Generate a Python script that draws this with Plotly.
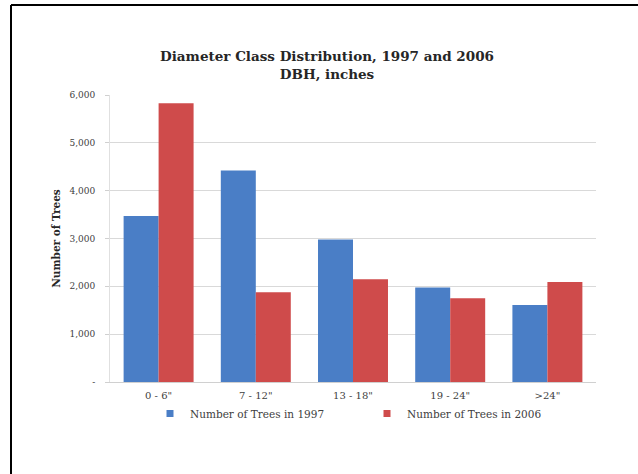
import plotly.graph_objects as go

categories = ['0 - 6"', '7 - 12"', '13 - 18"', '19 - 24"', '>24"']
trees_1997 = [3470, 4420, 2980, 1975, 1610]
trees_2006 = [5830, 1875, 2150, 1750, 2090]
series_names = ["Number of Trees in 1997", "Number of Trees in 2006"]
y_tickvals = [0, 1000, 2000, 3000, 4000, 5000, 6000]
y_ticktext = ["-", "1,000", "2,000", "3,000", "4,000", "5,000", "6,000"]

SERIF = "DejaVu Serif"
TXT = "#404040"
BLUE = "#4A7EC6"
RED = "#CF4B4B"

fig = go.Figure()
fig.add_trace(go.Bar(x=categories, y=trees_1997, name=series_names[0], showlegend=False,
                     legendgroup="a", marker=dict(color=BLUE, line=dict(width=0))))
fig.add_trace(go.Bar(x=categories, y=trees_2006, name=series_names[1], showlegend=False,
                     legendgroup="b", marker=dict(color=RED, line=dict(width=0))))
# legend entries with small square keys
fig.add_trace(go.Scatter(x=[None], y=[None], mode="markers", name=series_names[0],
                         legendgroup="a",
                         marker=dict(symbol="square", size=7, color=BLUE)))
fig.add_trace(go.Scatter(x=[None], y=[None], mode="markers", name=series_names[1],
                         legendgroup="b",
                         marker=dict(symbol="square", size=7, color=RED)))

fig.update_layout(
    width=638, height=474,
    margin=dict(l=110, r=42, t=95, b=92, autoexpand=False),
    paper_bgcolor="white", plot_bgcolor="white",
    barmode="group", bargap=0.28, bargroupgap=0,
    title=dict(
        text="<b>Diameter Class Distribution, 1997 and 2006<br>DBH, inches</b>",
        x=327/638, xref="container", xanchor="center",
        y=1-61/474, yref="container", yanchor="top",
        font=dict(family=SERIF, size=13.5, color="#262626"),
    ),
    font=dict(family=SERIF, size=9, color=TXT),
    xaxis=dict(showgrid=False, showline=True, linecolor="#d0d0d0", linewidth=1,
               automargin=False,
               ticks="outside", ticklen=4, tickcolor="rgba(0,0,0,0)",
               tickfont=dict(family=SERIF, size=10, color=TXT)),
    yaxis=dict(range=[0, 6000], tickvals=y_tickvals, ticktext=y_ticktext,
               automargin=False,
               showgrid=True, gridcolor="#d9d9d9", gridwidth=1,
               ticks="outside", ticklen=4, tickcolor="#d0d0d0",
               ticklabelstandoff=8,
               showline=True, linecolor="#e0e0e0", zeroline=False,
               tickfont=dict(family=SERIF, size=9, color=TXT),
               title=dict(text="<b>Number of Trees</b>", standoff=6,
                          font=dict(family=SERIF, size=10.5, color="#262626"))),
    legend=dict(orientation="h", xref="container", yref="container",
                x=150/638, xanchor="left", y=1-399/474, yanchor="top",
                entrywidth=172, itemwidth=30,
                font=dict(family=SERIF, size=10.5, color=TXT)),
    shapes=[
        dict(type="line", xref="paper", yref="paper",
             x0=(11-110)/486, x1=(638-110)/486, y0=(474-92-5)/287, y1=(474-92-5)/287,
             line=dict(color="black", width=2)),
        dict(type="line", xref="paper", yref="paper",
             x0=(11-110)/486, x1=(11-110)/486, y0=(474-92-5)/287, y1=-92/287,
             line=dict(color="black", width=2)),
    ],
)

fig.write_html("out.html")
